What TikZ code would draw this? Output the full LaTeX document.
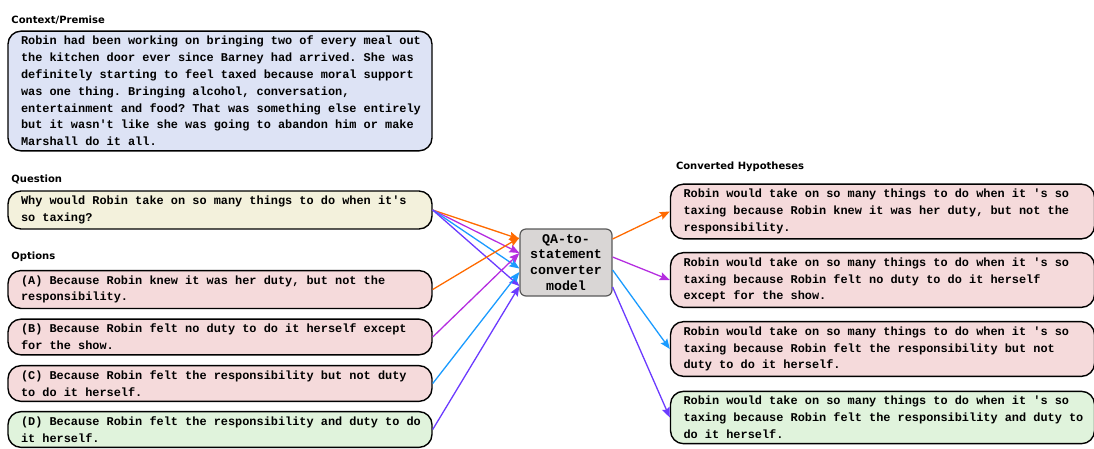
\documentclass[tikz,border=0pt]{standalone}
\usepackage{fontspec}
\setmonofont{Liberation Mono}
\newfontfamily\headfont{DejaVu Sans}
\usetikzlibrary{positioning}
\usetikzlibrary{arrows.meta}
\definecolor{ctxblue}{HTML}{DDE3F5}
\definecolor{quesyellow}{HTML}{F3F1DC}
\definecolor{wrongpink}{HTML}{F5DADB}
\definecolor{rightgreen}{HTML}{E0F3DC}
\definecolor{modelgrey}{HTML}{D9D6D5}
\definecolor{arrorange}{HTML}{FF6A00}
\definecolor{arrpurple}{HTML}{B52EE0}
\definecolor{arrblue}{HTML}{1A9BFF}
\definecolor{arrviolet}{HTML}{6B3BFF}
\tikzset{ % boxes, headings and arrows
  textbox/.style={draw=black,line width=1.4pt,rounded corners=13pt,
    text width=404pt,inner xsep=10pt,inner ysep=5pt,align=left,
    font={\ttfamily\bfseries\fontsize{11.9pt}{16.8pt}\selectfont},
    execute at begin node={\spaceskip=\fontdimen2\font\xspaceskip=\fontdimen2\font\leftskip=3pt}},
  heading/.style={inner sep=0pt,font={\headfont\bfseries\fontsize{10pt}{12pt}\selectfont}},
  feed/.style={line width=1.3pt,-{Stealth[length=10pt,width=8pt,inset=1.5pt]}}
}
\begin{document}
\begin{tikzpicture}[x=1pt,y=1pt]
   \useasboundingbox (0,0) rectangle (1094,-448);
   %
   \node (ctx) at (220,-91) [textbox,fill=ctxblue] {Robin had been working on bringing two of every meal out\\
      the kitchen door ever since Barney had arrived. She was\\
      definitely starting to feel taxed because moral support\\
      was one thing. Bringing alcohol, conversation,\\
      entertainment and food? That was something else entirely\\
      but it wasn't like she was going to abandon him or make\\
      Marshall do it all.};
   \node (ctxlab) [heading,above right=6pt and 4pt of ctx.north west] {Context/Premise};
   %
   \node (ques) at (220,-210) [textbox,fill=quesyellow] {Why would Robin take on so many things to do when it's\\
      so taxing?};
   \node (queslab) [heading,above right=6pt and 4pt of ques.north west] {Question};
   %
   \node (optA) at (220,-289.5) [textbox,fill=wrongpink] {(A) Because Robin knew it was her duty, but not the\\
      responsibility.};
   \node (optlab) [heading,above right=8pt and 4pt of optA.north west] {Options};
   \node (optB) at (220,-337) [textbox,fill=wrongpink] {(B) Because Robin felt no duty to do it herself except\\
      for the show.};
   \node (optC) at (220,-383.5) [textbox,fill=wrongpink] {(C) Because Robin felt the responsibility but not duty\\
      to do it herself.};
   \node (optD) at (220,-429.5) [textbox,fill=rightgreen] {(D) Because Robin felt the responsibility and duty to do\\
      it herself.};
   %
   \node (model) at (566,-262.5) [draw=black!65,line width=1.2pt,fill=modelgrey,rounded corners=6pt,
      minimum width=92pt,minimum height=67pt,inner sep=2pt,align=center,
      font={\ttfamily\bfseries\fontsize{13.3pt}{15.8pt}\selectfont}] {QA-to-\\statement\\converter\\model};
   %
   \node (hypA) at (882.5,-211.5) [textbox,fill=wrongpink] {Robin would take on so many things to do when it 's so\\
      taxing because Robin knew it was her duty, but not the\\
      responsibility.};
   \node (hyplab) [heading,above right=12pt and 6pt of hypA.north west] {Converted Hypotheses};
   \node (hypB) at (882.5,-280) [textbox,fill=wrongpink] {Robin would take on so many things to do when it 's so\\
      taxing because Robin felt no duty to do it herself\\
      except for the show.};
   \node (hypC) at (882.5,-349) [textbox,fill=wrongpink] {Robin would take on so many things to do when it 's so\\
      taxing because Robin felt the responsibility but not\\
      duty to do it herself.};
   \node (hypD) at (882.5,-417.5) [textbox,fill=rightgreen] {Robin would take on so many things to do when it 's so\\
      taxing because Robin felt the responsibility and duty to\\
      do it herself.};
   %% question to model
   \draw[feed,arrorange] (ques.east) -- ([yshift=23.5pt]model.west);
   \draw[feed,arrpurple] (ques.east) -- ([yshift=9.5pt]model.west);
   \draw[feed,arrblue] (ques.east) -- ([yshift=-6pt]model.west);
   \draw[feed,arrviolet] (ques.east) -- ([yshift=-23.5pt]model.west);
   %% options to model
   \draw[feed,arrorange] (optA.east) -- ([yshift=25pt]model.west);
   \draw[feed,arrpurple] (optB.east) -- ([yshift=9.5pt]model.west);
   \draw[feed,arrblue] (optC.east) -- ([yshift=-9.5pt]model.west);
   \draw[feed,arrviolet] (optD.east) -- ([yshift=-23.5pt]model.west);
   %% model to hypotheses
   \draw[feed,arrorange] ([yshift=23.5pt]model.east) -- (hypA.west);
   \draw[feed,arrpurple] ([yshift=5.5pt]model.east) -- (hypB.west);
   \draw[feed,arrblue] ([yshift=-7.5pt]model.east) -- (hypC.west);
   \draw[feed,arrviolet] ([yshift=-24.5pt]model.east) -- (hypD.west);
\end{tikzpicture}
\end{document}
